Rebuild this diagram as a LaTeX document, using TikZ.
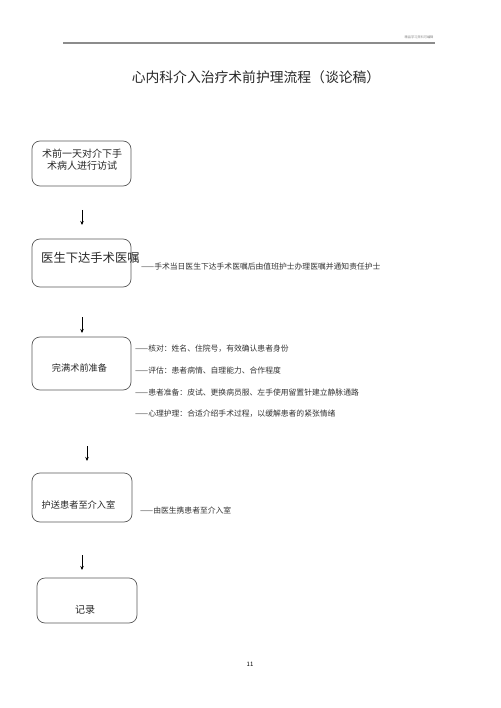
\documentclass[tikz,border=0pt]{standalone}
\usepackage{fontspec}
\setmainfont{Noto Sans CJK SC}
\usetikzlibrary{arrows.meta}

\tikzset{
	stepbox/.style={draw=black!65, line width=0.7pt, rounded corners=8pt, inner sep=0pt},
	boxtext/.style={inner sep=0pt, text=black!85},
	notetext/.style={inner sep=0pt, anchor=west, text=black!80, font=\fontsize{7.8}{9}\selectfont},
	flowarrow/.style={-{Stealth[length=4pt,width=3.5pt]}, line width=0.8pt}
}

\begin{document}
\begin{tikzpicture}[x=1pt,y=-1pt]
		\useasboundingbox (0,0) rectangle (500,708);
		% page header
		\coordinate (hl) at (63,43);
		\coordinate (hr) at (435,43);
		\draw [black!45, line width=1.3pt] (hl) -- (hr);
		\node [inner sep=0pt, text=black!50, font=\fontsize{3.2}{4}\selectfont] (head) at (419,37) {精品学习资料可编辑};
		\node [boxtext, font=\fontsize{13.8}{16}\selectfont] (title) at (256,77) {心内科介入治疗术前护理流程（谈论稿）};

		% boxes
		\node [stepbox, minimum width=99pt, minimum height=45pt] (visit) at (81.5,163.5) {};
		\node [stepbox, minimum width=99pt, minimum height=48pt] (order) at (81.5,263) {};
		\node [stepbox, minimum width=99pt, minimum height=53pt] (prep) at (81.5,363.5) {};
		\node [stepbox, minimum width=100pt, minimum height=49pt] (escort) at (82,497.5) {};
		\node [stepbox, minimum width=100pt, minimum height=45pt] (record) at (87,600.5) {};

		\node [boxtext, align=center, font=\fontsize{10}{12}\selectfont] (visitT) at (82,160) {术前一天对介下手\\术病人进行访试};
		\node [boxtext, anchor=west, font=\fontsize{12.3}{14}\selectfont] (orderT) at (41,258) {医生下达手术医嘱};
		\node [boxtext, font=\fontsize{9.2}{11}\selectfont] (prepT) at (79.5,368) {完满术前准备};
		\node [boxtext, font=\fontsize{9.2}{11}\selectfont] (escortT) at (78.5,505) {护送患者至介入室};
		\node [boxtext, font=\fontsize{10}{12}\selectfont] (recordT) at (85,610) {记录};

		% notes
		\node [notetext] (orderN) at (141,267) {——手术当日医生下达手术医嘱后由值班护士办理医嘱并通知责任护士};
		\node [notetext] (prepN1) at (135,349) {——核对：姓名、住院号，有效确认患者身份};
		\node [notetext] (prepN2) at (135,371) {——评估：患者病情、自理能力、合作程度};
		\node [notetext] (prepN3) at (135,393) {——患者准备：皮试、更换病员服、左手使用留置针建立静脉通路};
		\node [notetext] (prepN4) at (135,414) {——心理护理：合适介绍手术过程，以缓解患者的紧张情绪};
		\node [notetext] (escortN) at (140,511) {——由医生携患者至介入室};

		% arrows
		\coordinate (a1s) at (82,210);  \coordinate (a1e) at (82,225);
		\coordinate (a2s) at (82,317);  \coordinate (a2e) at (82,333);
		\coordinate (a3s) at (87,446);  \coordinate (a3e) at (87,461);
		\coordinate (a4s) at (82,555);  \coordinate (a4e) at (82,570);
		\foreach \a in {1,2,3,4}
			\draw [flowarrow] (a\a s) -- (a\a e);

		\node [inner sep=0pt, font=\fontsize{6}{7}\selectfont] (pageno) at (250,664) {11};
	\end{tikzpicture}
\end{document}
